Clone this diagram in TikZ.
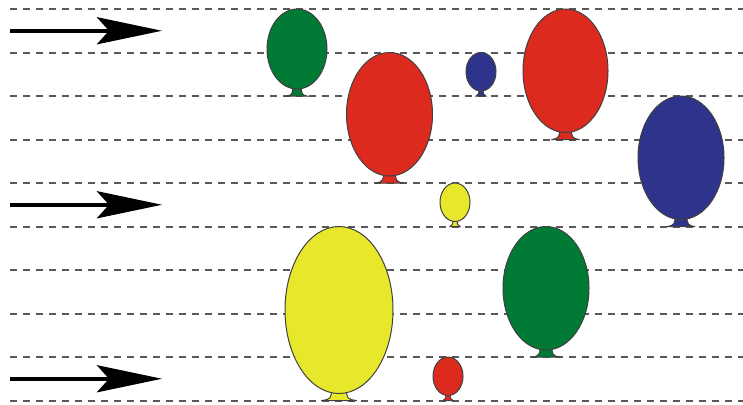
\documentclass[tikz,border=0pt]{standalone}
\usepackage{tikz}
\usetikzlibrary{arrows.meta}

\definecolor{balloongreen}{RGB}{0,122,52}
\definecolor{balloonred}{RGB}{221,42,30}
\definecolor{balloonblue}{RGB}{46,52,140}
\definecolor{balloonyellow}{RGB}{231,231,44}

% balloon: centre x, top y, knot bottom y, half width, colour
\newcommand{\balloon}[5]{%
	\pgfmathsetmacro{\kh}{ifthenelse(#4>20,7,5)}
	\pgfmathsetmacro{\ry}{(#3-#2-\kh)/2}
	\pgfmathsetmacro{\kb}{0.33*#4}
	\pgfmathsetmacro{\kt}{0.14*#4}
	\filldraw[balloonline, fill=#5] ({#1-\kb},#3) .. controls ({#1-0.45*\kb},{#3-0.8}) and ({#1-\kt},{#3-0.5*\kh}) .. ({#1-\kt},{#3-\kh-3})
		-- ({#1+\kt},{#3-\kh-3}) .. controls ({#1+\kt},{#3-0.5*\kh}) and ({#1+0.45*\kb},{#3-0.8}) .. ({#1+\kb},#3) -- cycle;
	\filldraw[balloonline, fill=#5] (#1,{#2+\ry}) ellipse [x radius=#4, y radius=\ry];
}

\begin{document}
\begin{tikzpicture}[x=0.5pt, y=-0.5pt,
	flowline/.style={black!65, line width=1pt, dash pattern=on 3.5pt off 3pt},
	balloonline/.style={draw=black!75, line width=0.5pt},
	windarrow/.style={-{Stealth[length=32.5pt, width=13.5pt, inset=6pt]}, line width=2.2pt, black}]
	\useasboundingbox (0,0) rectangle (743,404);
	\foreach \k in {0,...,9}
		\draw[flowline] (10,{9+43.5*\k}) -- (743,{9+43.5*\k});
	\draw[windarrow] (10,30.75) -- (162,30.75);
	\draw[windarrow] (10,204.75) -- (162,204.75);
	\draw[windarrow] (10,378.75) -- (162,378.75);
	\balloon{297}{9}{96}{30}{balloongreen}
	\balloon{389.5}{52.5}{183}{43}{balloonred}
	\balloon{481}{52.5}{96}{15}{balloonblue}
	\balloon{565.5}{9}{139.5}{42.5}{balloonred}
	\balloon{681}{96}{226.5}{43}{balloonblue}
	\balloon{455}{183}{226.5}{15}{balloonyellow}
	\balloon{339}{226.5}{400.5}{54}{balloonyellow}
	\balloon{546}{226.5}{357}{43}{balloongreen}
	\balloon{448}{357}{400.5}{15}{balloonred}
\end{tikzpicture}
\end{document}
